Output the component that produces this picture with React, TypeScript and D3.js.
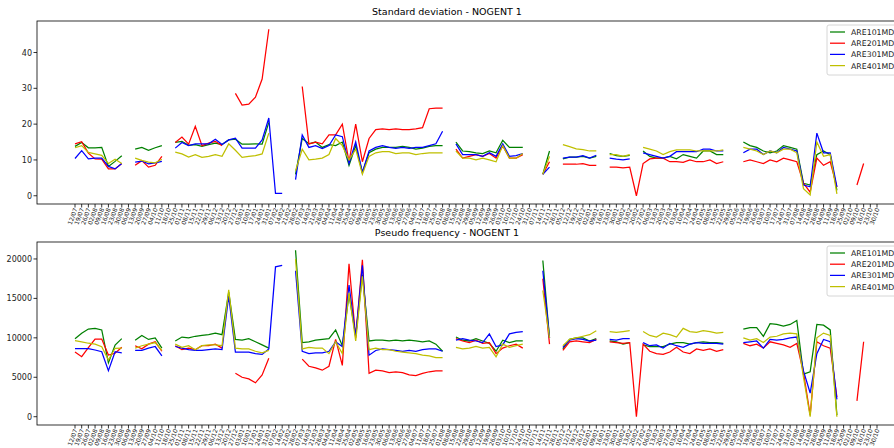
import React from "react";
import * as d3 from "d3";

const _ = null;

// Week labels along the shared x axis
const startDate = new Date(2020, 6, 6);
const fmt = d3.timeFormat("%d/%m");
const weekLabels: string[] = d3.timeWeek
  .every(1)!
  .range(startDate, d3.timeDay.offset(startDate, 121 * 7))
  .slice(0, 121)
  .map((d) => fmt(d));

const seriesNames = ["ARE101MD", "ARE201MD", "ARE301MD", "ARE401MD"];
const seriesColors = ["#008000", "#ff0000", "#0000ff", "#bfbf00"];

// Standard deviation
const sdGreen = [
  13.8, 14.9, 13.4, 13.4, 13.5, 8.2, 9.6, 11.2, _,
  13.0, 13.5, 12.7, 13.4, 14.0, _,
  14.9, 15.2, 14.1, 14.3, 13.8, 14.3, 14.7, 14.3, 15.6, 15.8, 14.4, 14.4, 14.5, 14.4, 20.5, _, _, _,
  6, 16, 14.5, 15, 13.5, 14.3, 14, 15, 8.5, 14, 6.5, 12, 13, 13.5, 13.5, 13.5, 13.8, 13.5, 13, 13.3, 13.8, 14, 14, _,
  15, 12.5, 12.3, 12, 11.8, 12.5, 12, 15.5, 13.5, 13.5, 13.5, _, _,
  6, 12.5, _,
  10.3, 10.8, 10.8, 11, 10.5, 11, _,
  11.8, 11.2, 11, 11.3, _, 12.5, 11, 10.5, 10.5, 11, 10.3, 11.5, 11, 10.5, 12.5, 12.5, 11.5, 11.5, _, _,
  15, 14, 13.5, 12.5, 12, 12.5, 14, 13.5, 13, 3.5, 3, 11.5, 12.5, 11.5, 1.5,
  _, _, _, _, _, _,
];
const sdRed = [
  14.5, 15.1, 11.9, 10.3, 10.2, 7.5, 7.5, 9.0, _,
  8.5, 9.8, 8.0, 8.5, 11.0, _,
  14.9, 16.4, 14.4, 19.4, 14.0, 14.7, 15.2, 14.0, _, 28.6, 25.3, 25.6, 27.5, 32.6, 46.5, _, _, _,
  _, 30.5, 14.5, 15, 14.5, 17, 17, 20, 9.5, 20, 9.5, 16, 18.5, 18.7, 18.5, 18.7, 18.5, 18.5, 18.7, 19, 24.3, 24.5, 24.5, _,
  13, 10.5, 11, 11.5, 11, 11.8, 10.5, 14, 10.5, 10.5, 11.5, _, _,
  6, 9.5, _,
  8.8, 8.8, 8.8, 9.0, 8.5, 8.5, _,
  8, 8, 7.8, 8, 0, 9, 10.3, 10.5, 10.5, 9.5, 9.5, 9.3, 10, 9.5, 9.5, 10, 9, 9.5, _, _,
  9.5, 10, 9.5, 9, 10, 9.5, 10.5, 10, 9.5, 3.5, 1, 10.5, 8.5, 9.5, 2.5,
  _, _, 3, 9, _, _,
];
const sdBlue = [
  10.4, 12.6, 10.3, 10.5, 10.5, 8.2, 7.5, 9.0, _,
  9.4, 9.7, 8.9, 9.2, 9.6, _,
  13.3, 14.9, 14.0, 14.5, 14.5, 14.5, 15.8, 14.3, 15.6, 16.1, 13.3, 13.3, 13.3, 15.6, 21.7, 0.65, 0.65, _,
  4.5, 17, 13.5, 14, 13.2, 14, 17, 16.5, 9, 15, 6.5, 12.5, 13.5, 14, 13.5, 13.2, 13.5, 13.2, 13.5, 13.5, 14, 14.5, 18, _,
  14.5, 11.5, 11.5, 11.5, 11, 12, 11, 14.5, 11, 11.2, 11.8, _, _,
  6, 8, _,
  10.5, 10.8, 10.8, 11.2, 10.5, 11.3, _,
  10.5, 10.2, 10, 10.3, _, 12, 11.5, 11, 10.5, 11, 12.3, 12.3, 12.3, 12.3, 13, 13, 12.5, 12.5, _, _,
  12, 13, 13, 11.5, 12.5, 12, 13.5, 13, 12.5, 3, 2.5, 17.5, 12, 12, 2.5,
  _, _, _, _, _, _,
];
const sdYellow = [
  13.4, 14.0, 12.1, 11.7, 11.3, 9.0, 10.2, 9.0, _,
  10.5, 9.9, 9.4, 9.2, 10.2, _,
  12.2, 11.7, 10.8, 11.5, 10.7, 11.0, 11.5, 11.0, 14.5, 12.7, 10.7, 11.0, 11.2, 11.7, 17.5, _, _, _,
  7, 13, 10, 10.2, 10.5, 11.5, 16, 14, 10, 13, 6, 11, 12, 12.3, 12.3, 11.8, 12, 12, 11.5, 11.8, 12, 12, 12, _,
  12.5, 10.5, 10.5, 10, 10.5, 10, 9.5, 14, 10.5, 10.5, 11.8, _, _,
  6, 11, _,
  14.3, 13.7, 13.1, 12.9, 12.5, 12.5, _,
  11.5, 11.5, 11, 11.5, _, 13.5, 13, 12.5, 11.5, 12.3, 12.8, 12.8, 12.8, 12.5, 12.5, 12.5, 12.5, 12.8, _, _,
  13.5, 13, 12.5, 11.5, 12.5, 12, 13, 13, 12, 2, 0.2, 15, 11, 11.5, 0.5,
  _, _, _, _, _, _,
];

// Pseudo frequency
const pfGreen = [
  9890, 10575, 11120, 11209, 10994, 6847, 9092, 9900, _,
  9700, 10300, 9800, 10000, 8700, _,
  9600, 10100, 10000, 10200, 10300, 10400, 10600, 10400, 15800, 9800, 9700, 9900, 9500, 9100, 8700, _, _, _,
  21100, 9400, 9500, 9700, 9800, 9900, 11000, 9000, 15500, 10200, 18000, 9600, 9700, 9700, 9600, 9700, 9600, 9700, 9600, 9500, 9600, 9200, 8300, _,
  10100, 9700, 9600, 9900, 9600, 9300, 8300, 9700, 9400, 9600, 9600, _, _,
  19800, 10000, _,
  8600, 9800, 10000, 10000, 9600, 9900, _,
  9600, 9500, 9200, 9400, _, 9100, 8900, 8900, 8900, 9200, 9400, 9400, 9200, 9400, 9500, 9400, 9400, 9300, _, _,
  11100, 11300, 11300, 10200, 11800, 11700, 11500, 11700, 12200, 5400, 5700, 11700, 11600, 11000, 200,
  _, _, _, _, _, _,
];
const pfRed = [
  8204, 7608, 8750, 9852, 9852, 7824, 8039, 8800, _,
  9000, 8600, 9200, 9500, 8300, _,
  9000, 8500, 8700, 8500, 9000, 9000, 9200, 8700, _, 5500, 5000, 4800, 4300, 5300, 7400, _, _, _,
  _, 7300, 6400, 6200, 5900, 6400, 9800, 6500, 19400, 10000, 19900, 5500, 5900, 5800, 5600, 5700, 5600, 5300, 5200, 5500, 5700, 5800, 5800, _,
  9900, 9600, 9400, 9700, 9300, 9400, 8000, 8700, 9000, 9200, 8700, _, _,
  17500, 9200, _,
  8400, 9500, 9600, 9500, 9400, 9800, _,
  9500, 9400, 9300, 9400, 0, 9200, 8300, 8000, 7900, 8200, 8800, 8200, 8000, 8600, 8400, 8600, 8300, 8500, _, _,
  9300, 9000, 9200, 8700, 9500, 9300, 9100, 8800, 9300, 5600, 200, 9500, 9000, 8700, 2500,
  _, _, 2000, 9500, _, _,
];
const pfBlue = [
  8622, 8622, 8622, 8457, 8242, 5833, 8242, 8100, _,
  8400, 8400, 8700, 8900, 7700, _,
  8900, 8700, 8500, 8400, 8400, 8500, 8600, 8500, 15300, 8200, 8200, 8200, 8000, 7900, 8600, 19000, 19200, _,
  18500, 8300, 8000, 8100, 8100, 8300, 9500, 8900, 16700, 10200, 19200, 7800, 8400, 8600, 8500, 8400, 8300, 8400, 8300, 8500, 8600, 8600, 8300, _,
  9700, 9900, 9700, 9600, 9400, 10500, 8900, 9100, 10500, 10700, 10800, _, _,
  18500, 10000, _,
  8800, 9700, 9900, 9800, 9600, 9700, _,
  9800, 9700, 9900, 9900, _, 9400, 9000, 9100, 8700, 9300, 9000, 8800, 9200, 9400, 9300, 9300, 9300, 9200, _, _,
  9400, 9500, 9600, 8700, 9800, 9700, 9800, 10000, 10100, 5800, 3000, 8000, 9800, 9500, 2200,
  _, _, _, _, _, _,
];
const pfYellow = [
  9637, 9476, 9315, 9195, 8876, 7190, 8673, 8700, _,
  8700, 9000, 9200, 9400, 8400, _,
  9200, 8800, 9000, 8500, 9000, 9100, 9100, 9000, 16100, 8700, 8600, 8600, 8300, 8100, 8400, _, _, _,
  20000, 8600, 8800, 8700, 8700, 8000, 9500, 8000, 15700, 9600, 17800, 8500, 8700, 8500, 8500, 8300, 8200, 8100, 8000, 7800, 7700, 7500, 7500, _,
  8800, 8600, 8700, 8900, 8700, 8800, 7600, 9200, 8800, 9000, 9200, _, _,
  16000, 10000, _,
  9000, 9800, 10000, 10200, 10400, 10900, _,
  10800, 10700, 10800, 10900, _, 10800, 10300, 10100, 10600, 10400, 10100, 11200, 10800, 10700, 10900, 10800, 10600, 10700, _, _,
  10000, 9700, 9900, 9400, 10100, 10200, 10500, 10600, 10500, 5000, 0, 10000, 10600, 10300, 0,
  _, _, _, _, _, _,
];

const sdTicks = [0, 10, 20, 30, 40];
const pfTicks = [0, 5000, 10000, 15000, 20000];

type PanelProps = {
  title: string;
  series: (number | null)[][];
  yDomain: [number, number];
  yTicks: number[];
  top: number;
  bottom: number;
  titleY: number;
};

const LEFT = 37;
const RIGHT = 917;
const xScale = d3.scaleLinear().domain([0, 120]).range([75, 877]);

function Panel({ title, series, yDomain, yTicks, top, bottom, titleY }: PanelProps) {
  const y = d3.scaleLinear().domain(yDomain).range([bottom, top]);
  const line = d3
    .line<number | null>()
    .defined((d) => d !== null)
    .x((_d, i) => xScale(i))
    .y((d) => y(d as number));
  const legendTop = top + 4;
  return (
    <g>
      <text x={447} y={titleY} textAnchor="middle" fontSize={9.5} fill="#000">
        {title}
      </text>
      <g>
        {series.map((s, k) => (
          <path key={k} d={line(s) || ""} fill="none" stroke={seriesColors[k]} strokeWidth={1.25} />
        ))}
      </g>
      <rect x={LEFT} y={top} width={RIGHT - LEFT} height={bottom - top} fill="none" stroke="#000" strokeWidth={0.8} />
      {yTicks.map((t) => (
        <g key={t}>
          <line x1={LEFT - 3.5} x2={LEFT} y1={y(t)} y2={y(t)} stroke="#000" strokeWidth={0.8} />
          <text x={LEFT - 5} y={y(t) + 3} textAnchor="end" fontSize={8} fill="#222">
            {t}
          </text>
        </g>
      ))}
      {weekLabels.map((lab, i) => (
        <g key={i}>
          <line x1={xScale(i)} x2={xScale(i)} y1={bottom} y2={bottom + 3.5} stroke="#000" strokeWidth={0.8} />
          <text
            transform={`translate(${xScale(i) + 2.5},${bottom + 5}) rotate(-70)`}
            textAnchor="end"
            fontSize={6}
            fill="#222"
          >
            {lab}
          </text>
        </g>
      ))}
      <g>
        <rect x={827} y={legendTop} width={80} height={50} rx={2} fill="#fff" fillOpacity={0.8} stroke="#ccc" strokeWidth={0.8} />
        {seriesNames.map((n, k) => (
          <g key={n}>
            <line x1={830} x2={845} y1={legendTop + 7 + k * 11.2} y2={legendTop + 7 + k * 11.2} stroke={seriesColors[k]} strokeWidth={1.25} />
            <text x={851} y={legendTop + 10 + k * 11.2} fontSize={7.8} fill="#222">
              {n}
            </text>
          </g>
        ))}
      </g>
    </g>
  );
}

export default function App() {
  return (
    <svg width={894} height={448} style={{ position: "absolute", left: 0, top: 0, fontFamily: "DejaVu Sans" }}>
      <rect width={894} height={448} fill="#fff" />
      <Panel
        title="Standard deviation - NOGENT 1"
        series={[sdGreen, sdRed, sdBlue, sdYellow]}
        yDomain={[-2.3, 48.8]}
        yTicks={sdTicks}
        top={21}
        bottom={204}
        titleY={15}
      />
      <Panel
        title="Pseudo frequency - NOGENT 1"
        series={[pfGreen, pfRed, pfBlue, pfYellow]}
        yDomain={[-1050, 22150]}
        yTicks={pfTicks}
        top={242}
        bottom={425}
        titleY={236}
      />
    </svg>
  );
}
